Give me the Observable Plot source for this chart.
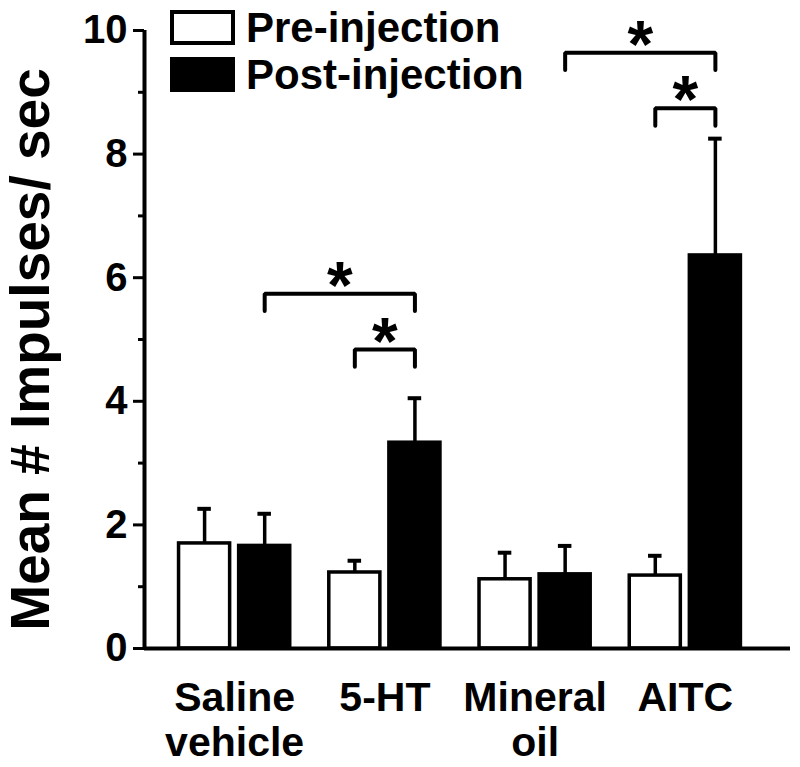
<!DOCTYPE html>
<html>
<head>
<meta charset="utf-8">
<script src="https://cdn.jsdelivr.net/npm/d3@7"></script>
<script src="https://cdn.jsdelivr.net/npm/@observablehq/plot@0.6"></script>
<style>
  html, body { margin: 0; padding: 0; background: #fff; }
  #wrap { position: relative; width: 800px; height: 767px; font-family: "Liberation Sans", Arial, sans-serif; font-weight: bold; }
  #legend { position: absolute; left: 170px; top: 10px; }
  .row { display: flex; align-items: center; height: 35px; margin-bottom: 12px; }
  .sw { width: 65px; height: 35px; box-sizing: border-box; border: 4px solid #000; margin-right: 11px; }
  .lab { font-size: 42px; line-height: 1; color: #000; white-space: nowrap; }
</style>
</head>
<body>
<div id="wrap">
  <div id="chart"></div>
  <div id="legend"></div>
</div>
<script>
// ---- data ----
const groups = ["Saline vehicle", "5-HT", "Mineral oil", "AITC"];
const groupLabels = ["Saline\nvehicle", "5-HT", "Mineral\noil", "AITC"];
const conditions = ["Pre-injection", "Post-injection"];
const preMean = [1.70, 1.23, 1.12, 1.18];
const preUpper = [2.26, 1.42, 1.55, 1.50];
const postMean = [1.66, 3.33, 1.20, 6.36];
const postUpper = [2.18, 4.05, 1.66, 8.25];
const yTicks = [0, 2, 4, 6, 8, 10];
const yMinorTicks = [1, 3, 5, 7, 9];
const yLabel = "Mean # Impulses/ sec";
// significance comparisons (bracket from a to b)
const sigA = [["Saline vehicle", "Post"], ["5-HT", "Pre"], ["Mineral oil", "Post"], ["AITC", "Pre"]];
const sigB = [["5-HT", "Post"], ["5-HT", "Post"], ["AITC", "Post"], ["AITC", "Post"]];
const sigTop = [5.74, 4.84, 9.64, 8.74];
const sigMark = ["*", "*", "*", "*"];

// ---- layout helpers ----
const OFF = 0.2, HW = 0.17, CAP = 0.045, LEG = 0.28;
const xOf = (g, c) => groups.indexOf(g) + (c === "Pre" ? -OFF : OFF);

const rows = groups.flatMap((g, i) => [
  {group: g, cond: "Pre", mean: preMean[i], upper: preUpper[i]},
  {group: g, cond: "Post", mean: postMean[i], upper: postUpper[i]}
]);
const bracketPts = sigTop.flatMap((t, k) => {
  const xa = xOf(...sigA[k]), xb = xOf(...sigB[k]);
  return [
    {k, x: xa, y: t - LEG}, {k, x: xa, y: t}, {k, x: xb, y: t}, {k, x: xb, y: t - LEG}
  ];
});
const stars = sigTop.map((t, k) => ({x: (xOf(...sigA[k]) + xOf(...sigB[k])) / 2, y: t, s: sigMark[k]}));

const chart = Plot.plot({
  width: 800,
  height: 767,
  marginLeft: 144,
  marginRight: 10,
  marginTop: 30,
  marginBottom: 119,
  style: {fontFamily: "Liberation Sans, Arial, sans-serif", fontWeight: "bold", background: "white", color: "black"},
  x: {domain: [-0.6, 3.7]},
  y: {domain: [0, 10]},
  marks: [
    Plot.rectY(rows, {
      x1: d => xOf(d.group, d.cond) - HW,
      x2: d => xOf(d.group, d.cond) + HW,
      y1: 0, y2: "mean",
      fill: d => d.cond === "Pre" ? "white" : "black",
      stroke: "black", strokeWidth: 3.5
    }),
    Plot.ruleX(rows, {x: d => xOf(d.group, d.cond), y1: "mean", y2: "upper", strokeWidth: 3.5}),
    Plot.ruleY(rows, {y: "upper", x1: d => xOf(d.group, d.cond) - CAP, x2: d => xOf(d.group, d.cond) + CAP, strokeWidth: 4}),
    Plot.line(bracketPts, {x: "x", y: "y", z: "k", strokeWidth: 4, strokeLinejoin: "miter"}),
    Plot.text(stars, {x: "x", y: "y", text: "s", fontSize: 66, dy: -7}),
    Plot.ruleY([0], {strokeWidth: 4}),
    Plot.ruleX([-0.6], {y1: 0, y2: 10, strokeWidth: 4}),
    Plot.axisY({ticks: yTicks, tickSize: 11, tickPadding: 6, fontSize: 40, strokeWidth: 3, label: null, tickFormat: d => String(d)}),
    Plot.axisY({ticks: yMinorTicks, tickSize: 6, strokeWidth: 3, label: null, tickFormat: () => ""}),
    Plot.axisX({ticks: [0, 1, 2, 3], tickSize: 0, tickPadding: 30, fontSize: 41, lineHeight: 1.1, label: null, tickFormat: i => groupLabels[i]}),
    Plot.text([yLabel], {frameAnchor: "left", rotate: -90, dx: -113, dy: 10, fontSize: 55, textAnchor: "middle", lineAnchor: "middle"})
  ]
});
document.getElementById("chart").appendChild(chart);

// legend (inside plot area, top-left)
const legend = document.getElementById("legend");
const swFill = ["white", "black"];
conditions.forEach((c, i) => {
  const row = document.createElement("div");
  row.className = "row";
  const sw = document.createElement("div");
  sw.className = "sw";
  sw.style.background = swFill[i];
  const lab = document.createElement("div");
  lab.className = "lab";
  lab.textContent = c;
  row.appendChild(sw);
  row.appendChild(lab);
  legend.appendChild(row);
});
</script>
</body>
</html>
